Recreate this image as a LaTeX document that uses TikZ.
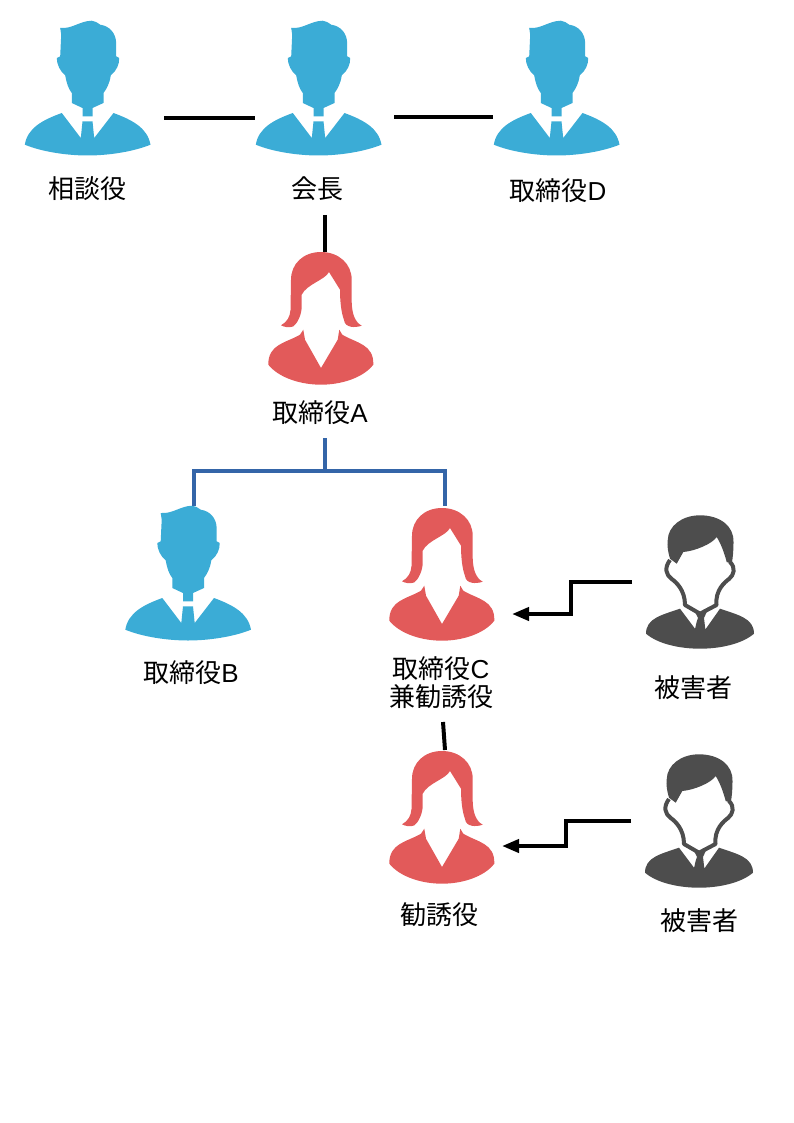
\documentclass[tikz,border=0pt]{standalone}
\usepackage{fontspec}
\setmainfont{Liberation Sans}
\newfontfamily\jpfont{Noto Sans CJK JP}
\usepackage{tikz}
\usetikzlibrary{arrows.meta,positioning,calc}
\newcommand{\jp}[1]{{\jpfont #1}}
\definecolor{manblue}{HTML}{3BACD6}
\definecolor{womanred}{HTML}{E25A5A}
\definecolor{victimgray}{HTML}{4D4D4D}
\definecolor{linkblue}{HTML}{3465A8}
\tikzset{
  pics/manicon/.style={code={
    \fill[manblue] (-27.3,-60) .. controls (-15,-59) and (-8,-67) .. (4.3,-67.3)
      .. controls (8,-67) and (10,-65) .. (12.7,-63.3)
      .. controls (22,-62) and (28.7,-55) .. (28.7,-44) -- (28.7,-31.7) -- (31.7,-30)
      .. controls (32,-24) and (29,-17) .. (23.3,-12.7)
      .. controls (22,-4) and (19,1) .. (16,5) -- (16,15) -- (5,20) -- (5,28.3)
      -- (-5,28.3) -- (-5,20) -- (-15.7,15) -- (-15.7,5)
      .. controls (-19,1) and (-21,-5) .. (-22.3,-12.7)
      .. controls (-27,-16) and (-31,-24) .. (-30.7,-30) -- (-27.3,-31.7)
      -- (-26.3,-53.3) -- cycle;
    \fill[manblue] (-25.7,25) .. controls (-45,32) and (-60,40) .. (-62.7,56.7)
      .. controls (-45,64) and (-20,67.5) .. (0,67.5)
      .. controls (20,67.5) and (45,64) .. (63,56.7)
      .. controls (60,40) and (45,32) .. (26,25)
      -- (6.7,50) -- (5,33.3) -- (-5,33.3) -- (-6.7,50) -- cycle;
  }},
  pics/womanicon/.style={code={
    \fill[womanred] (0,-66) .. controls (18,-66) and (30.7,-54) .. (30.7,-38.3)
      -- (30.7,-16) .. controls (31,-4) and (34,4) .. (40.7,7.7)
      .. controls (34,10) and (24,10) .. (23,2)
      .. controls (20,-6) and (19,-18) .. (19,-28.3)
      -- (8,-46) .. controls (4,-38) and (-14,-34) .. (-19.3,-23.3)
      -- (-19.3,-10) .. controls (-20,-2) and (-24,6) .. (-28,8.5)
      .. controls (-32,10) and (-37,9) .. (-40,7.3)
      .. controls (-34,4) and (-31,-1) .. (-30.5,-8)
      -- (-30,-38.3) .. controls (-30,-54) and (-18,-66) .. (0,-66) -- cycle;
    \fill[womanred] (-17.7,11.7) -- (-16,21.7) -- (0,50) -- (16.7,21.7) -- (18.3,11.7)
      -- (21.3,16.7) .. controls (35,25) and (53,26) .. (52.3,46.7)
      .. controls (42,60) and (20,66.7) .. (0,66.7)
      .. controls (-20,66.7) and (-42,60) .. (-52.7,46.7)
      .. controls (-53,26) and (-35,25) .. (-21,16.7) -- cycle;
  }},
  pics/victimicon/.style={code={
    \fill[victimgray] (0,-66.7) .. controls (20,-66.7) and (34,-56) .. (33.5,-40)
      .. controls (33.5,-32) and (33,-25) .. (31.7,-18.3) -- (26.7,-20)
      .. controls (24,-30) and (21,-38) .. (16.7,-45)
      .. controls (12,-38) and (-5,-31) .. (-16.7,-30)
      -- (-23.3,-18.3) -- (-30,-23.3)
      .. controls (-32,-30) and (-33,-36) .. (-32.3,-41.7)
      .. controls (-32,-56) and (-18,-66.7) .. (0,-66.7) -- cycle;
    \draw[victimgray,line width=4pt,line join=round]
      (-30,-22) .. controls (-36,-14) and (-34,-7) .. (-28.3,-3)
      .. controls (-24,0) and (-15,8) .. (-15,23) -- (0,31.7) -- (16.5,23)
      .. controls (15,8) and (25,0) .. (29,-3)
      .. controls (34,-7) and (36,-14) .. (30,-20);
    \fill[victimgray] (-20,26.7) -- (-3.3,49) -- (-5.5,49) .. controls (-5,49) and (-4,40) .. (-2,36)
      -- (-5,30) -- (6.7,30) -- (4,36) -- (5.5,49) -- (5,48) -- (20,26.7)
      .. controls (38,33) and (54,36) .. (54,51.7)
      .. controls (42,62) and (20,66.7) .. (0,66.7)
      .. controls (-20,66.7) and (-42,62) .. (-54,51.7)
      .. controls (-54,36) and (-38,33) .. (-20,26.7) -- cycle;
  }}
}
\begin{document}
\begin{tikzpicture}[
  x=1pt, y=-1pt,
  manbox/.style={minimum width=127pt, minimum height=135pt, inner sep=0pt, outer sep=0pt},
  womanbox/.style={minimum width=106pt, minimum height=133pt, inner sep=0pt, outer sep=0pt},
  victimbox/.style={minimum width=108pt, minimum height=134pt, inner sep=0pt, outer sep=0pt},
  labl/.style={font=\fontsize{26}{28}\selectfont, inner sep=0pt, text height=20pt, text depth=4pt, align=center},
  conn/.style={line width=4pt, black},
  tree/.style={line width=4pt, linkblue},
  arr/.style={-{Triangle[length=17pt,width=13pt]}, line width=4pt, black},
]
\useasboundingbox (0,0) rectangle (794,1123);

\node[manbox] (adviser) at (87.5,88) {};
\node[manbox] (chair) at (318.5,88) {};
\node[manbox] (dirD) at (556.5,88) {};
\node[womanbox] (dirA) at (321,318) {};
\node[manbox] (dirB) at (188,573) {};
\node[womanbox] (dirC) at (442,574) {};
\node[womanbox] (recruiter) at (442,817) {};
\node[victimbox] (victim1) at (700,582) {};
\node[victimbox] (victim2) at (699,821) {};

\foreach \who in {adviser,chair,dirD,dirB} \pic at (\who) {manicon};
\foreach \who in {dirA,dirC,recruiter} \pic at (\who) {womanicon};
\foreach \who in {victim1,victim2} \pic at (\who) {victimicon};

\node[labl, below=23pt of adviser] (advlab) {\jp{相談役}};
\node[labl, below=23pt of chair, xshift=-1.5pt] (chairlab) {\jp{会長}};
\node[labl, below=25pt of dirD, xshift=1.5pt] (dlab) {\jp{取締役}D};
\node[labl, below=18pt of dirA, xshift=-1pt] (alab) {\jp{取締役}A};
\node[labl, below=22pt of dirB, xshift=3pt] (blab) {\jp{取締役}B};
\node[labl, below=46pt of dirC, xshift=-1pt] (clab) {\jp{取締役}C\\\jp{兼勧誘役}};
\node[labl, below=21pt of recruiter, xshift=-3pt] (reclab) {\jp{勧誘役}};
\node[labl, below=28pt of victim1, xshift=-7pt] (v1lab) {\jp{被害者}};
\node[labl, below=22pt of victim2] (v2lab) {\jp{被害者}};

\coordinate (chairfoot) at (325,215);
\coordinate (afoot) at (325,438);
\coordinate (bus) at (325,471);
\coordinate (ctail) at (443,722);
\coordinate (v1tail) at (632,582);
\coordinate (v1tip) at (512,614);
\coordinate (v2tail) at (631,821);
\coordinate (v2tip) at (502,846);

\draw[conn] ([xshift=13pt,yshift=-30pt]adviser.east) -- ([yshift=-30pt]chair.west);
\draw[conn] ([xshift=12pt,yshift=-29pt]chair.east) -- ([yshift=-29pt]dirD.west);
\draw[conn] (chairfoot) -- (chairfoot |- dirA.north);
\draw[tree] (afoot) -- (bus);
\draw[tree] (bus) -| (194,506);
\draw[tree] (bus) -| (445,506);
\draw[conn] (ctail) -- (445,750);
\draw[arr] (v1tail) -- (571,582) -- (571,614) -- (v1tip);
\draw[arr] (v2tail) -- (566,821) -- (566,846) -- (v2tip);
\end{tikzpicture}
\end{document}
